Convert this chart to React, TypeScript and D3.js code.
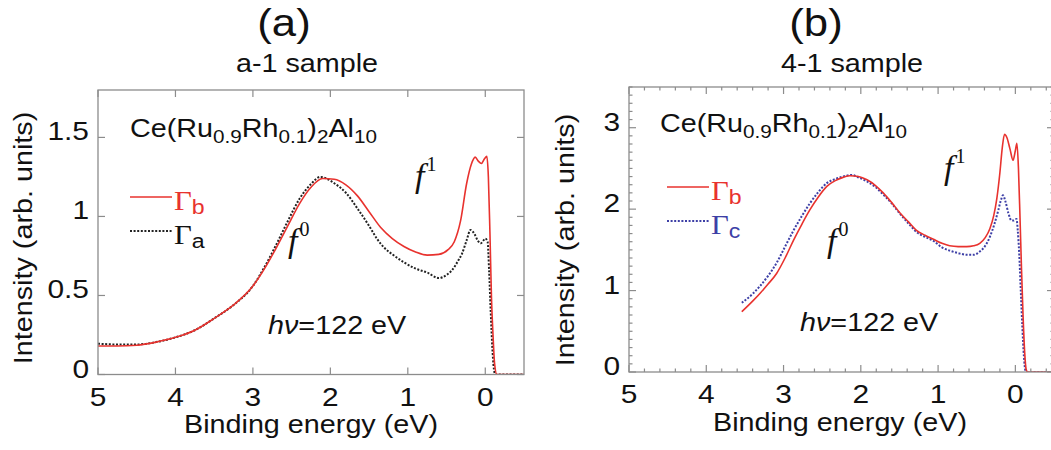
import React from 'react';
import * as d3 from 'd3';

// ---------- data ----------
const energyTicks = [5, 4, 3, 2, 1, 0];
const energyTickLabels = ['5', '4', '3', '2', '1', '0'];
const intensityTicksA = [0, 0.5, 1, 1.5];
const intensityTickLabelsA = ['0', '0.5', '1', '1.5'];
const intensityTicksB = [0, 1, 2, 3];
const intensityTickLabelsB = ['0', '1', '2', '3'];

// (a) a-1 sample, Γb (solid red)
const energyA_b = [5.0, 4.75, 4.5, 4.25, 4.0, 3.75, 3.5, 3.25, 3.0, 2.85, 2.7, 2.55, 2.4, 2.25, 2.1, 1.95, 1.8, 1.65, 1.5, 1.35, 1.2, 1.05, 0.9, 0.75, 0.6, 0.48, 0.4, 0.32, 0.24, 0.18, 0.13, 0.09, 0.05, 0.01, -0.02, -0.04, -0.06, -0.08, -0.1, -0.12, -0.15, -0.5];
const intensityA_b = [0.18, 0.18, 0.185, 0.205, 0.235, 0.28, 0.355, 0.44, 0.56, 0.67, 0.8, 0.94, 1.08, 1.185, 1.24, 1.235, 1.2, 1.13, 1.03, 0.93, 0.86, 0.81, 0.775, 0.755, 0.76, 0.79, 0.84, 0.97, 1.21, 1.33, 1.375, 1.35, 1.335, 1.365, 1.38, 1.25, 0.9, 0.49, 0.25, 0.07, 0.0, 0.0];

// (a) a-1 sample, Γa (dotted black)
const energyA_a = [5.0, 4.75, 4.5, 4.25, 4.0, 3.75, 3.5, 3.25, 3.0, 2.85, 2.7, 2.55, 2.4, 2.25, 2.13, 2.05, 1.95, 1.8, 1.65, 1.5, 1.4, 1.3, 1.2, 1.05, 0.9, 0.75, 0.6, 0.5, 0.43, 0.35, 0.3, 0.24, 0.19, 0.14, 0.1, 0.06, 0.02, 0.0, -0.03, -0.05, -0.07, -0.09, -0.11, -0.13, -0.5];
const intensityA_a = [0.195, 0.19, 0.19, 0.205, 0.235, 0.28, 0.355, 0.44, 0.56, 0.68, 0.82, 0.97, 1.11, 1.205, 1.25, 1.24, 1.21, 1.15, 1.05, 0.94, 0.86, 0.8, 0.76, 0.71, 0.67, 0.645, 0.61, 0.63, 0.66, 0.72, 0.765, 0.85, 0.915, 0.89, 0.85, 0.83, 0.85, 0.86, 0.84, 0.65, 0.4, 0.18, 0.04, 0.0, 0.0];

// (b) 4-1 sample, Γb (solid red)
const energyB_b = [3.54, 3.4, 3.3, 3.2, 3.09, 2.98, 2.87, 2.76, 2.66, 2.55, 2.44, 2.33, 2.23, 2.14, 2.03, 1.92, 1.81, 1.71, 1.6, 1.49, 1.38, 1.28, 1.17, 1.06, 0.95, 0.85, 0.74, 0.63, 0.54, 0.46, 0.39, 0.33, 0.28, 0.24, 0.2, 0.17, 0.14, 0.11, 0.07, 0.03, 0.0, -0.02, -0.04, -0.06, -0.08, -0.1, -0.12, -0.14, -0.16, -0.5];
const intensityB_b = [0.74, 0.87, 0.97, 1.08, 1.21, 1.4, 1.62, 1.82, 1.99, 2.15, 2.28, 2.35, 2.39, 2.41, 2.4, 2.36, 2.29, 2.2, 2.08, 1.95, 1.84, 1.74, 1.68, 1.63, 1.58, 1.55, 1.54, 1.54, 1.55, 1.58, 1.65, 1.76, 1.92, 2.13, 2.45, 2.75, 2.92, 2.88, 2.74, 2.6, 2.72, 2.81, 2.5, 1.9, 1.25, 0.68, 0.25, 0.03, 0.0, 0.0];

// (b) 4-1 sample, Γc (dotted blue)
const energyB_c = [3.54, 3.4, 3.31, 3.2, 3.09, 2.98, 2.87, 2.76, 2.66, 2.55, 2.44, 2.33, 2.23, 2.12, 2.03, 1.92, 1.81, 1.71, 1.6, 1.49, 1.38, 1.28, 1.17, 1.06, 0.95, 0.85, 0.74, 0.63, 0.54, 0.46, 0.39, 0.33, 0.27, 0.22, 0.19, 0.16, 0.13, 0.09, 0.05, 0.02, -0.015, -0.03, -0.05, -0.07, -0.09, -0.11, -0.13, -0.15, -0.5];
const intensityB_c = [0.85, 0.96, 1.05, 1.18, 1.34, 1.54, 1.74, 1.92, 2.07, 2.21, 2.32, 2.37, 2.4, 2.42, 2.39, 2.34, 2.27, 2.18, 2.07, 1.94, 1.82, 1.72, 1.66, 1.61, 1.53, 1.49, 1.46, 1.44, 1.44, 1.48, 1.55, 1.66, 1.82, 1.99, 2.1, 2.17, 2.1, 1.95, 1.86, 1.86, 1.88, 1.75, 1.45, 1.0, 0.56, 0.2, 0.02, 0.0, 0.0];

// ---------- styling ----------
const SANS = '"Liberation Sans", Arial, Helvetica, sans-serif';
const SERIF = '"Liberation Serif", "Times New Roman", serif';
const SX = 1.15; // the lettering is set wider than regular Helvetica
const FRAME = '#8c8c8c';
const RED = '#e8322e';
const BLUE = '#3d3fa6';
const DARK = '#222';

type Pt = [number, number];
const zip = (e: number[], v: number[]): Pt[] => e.map((d, i) => [d, v[i]]);

function WideText({ x, y, size = 26, anchor = 'start', rotate = 0, fill = '#111', family = SANS, italic = false, children }: any) {
  const t = `translate(${x},${y})${rotate ? ` rotate(${rotate})` : ''} scale(${SX},1)`;
  return (
    <text transform={t} fontSize={size} textAnchor={anchor} fill={fill} fontFamily={family} fontStyle={italic ? 'italic' : 'normal'}>
      {children}
    </text>
  );
}

interface Series { data: Pt[]; color: string; dashed: boolean }

interface PanelProps {
  x0: number; x1: number; y0: number; y1: number; yMax: number;
  yTicks: number[]; yTickLabels: string[];
  minor: boolean;
  series: Series[];
}

function Panel({ x0, x1, y0, y1, yMax, yTicks, yTickLabels, minor, series }: PanelProps) {
  const x = d3.scaleLinear().domain([5, -0.5]).range([x0, x1]);
  const y = d3.scaleLinear().domain([0, yMax]).range([y0, y1]);
  const line = d3.line<Pt>().x(d => x(d[0])).y(d => y(d[1])).curve(d3.curveMonotoneX);
  const major = 7;
  const small = 3.5;
  const xMinor = minor ? d3.range(-0.4, 5.001, 0.2).filter(v => Math.abs(v - Math.round(v)) > 1e-6) : [];
  const yMinor = minor ? d3.range(0, yMax + 1e-6, 0.1).filter(v => Math.abs(v - Math.round(v)) > 1e-6) : [];
  const xl = x(5), xr = x(-0.5), yb = y(0), yt = y(yMax);
  return (
    <g>
      <defs>
        <clipPath id={`clip-${x0}`}>
          <rect x={xl} y={yt} width={xr - xl} height={yb - yt} />
        </clipPath>
      </defs>
      <g clipPath={`url(#clip-${x0})`}>
        {series.map((s, i) => (
          <path key={i} d={line(s.data) || ''} fill="none" stroke={s.color}
            strokeWidth={s.dashed ? 2 : 1.6} strokeDasharray={s.dashed ? '2 1.6' : undefined} />
        ))}
      </g>
      <rect x={xl} y={yt} width={xr - xl} height={yb - yt} fill="none" stroke={FRAME} strokeWidth={1.3} />
      <g stroke={FRAME} strokeWidth={1.2}>
        {energyTicks.map(t => (
          <g key={`xt${t}`}>
            <line x1={x(t)} x2={x(t)} y1={yb} y2={yb - major} />
            <line x1={x(t)} x2={x(t)} y1={yt} y2={yt + major} />
          </g>
        ))}
        {xMinor.map(t => (
          <g key={`xm${t.toFixed(1)}`}>
            <line x1={x(t)} x2={x(t)} y1={yb} y2={yb - small} />
            <line x1={x(t)} x2={x(t)} y1={yt} y2={yt + small} />
          </g>
        ))}
        {yTicks.map(t => (
          <g key={`yt${t}`}>
            <line x1={xl} x2={xl + major} y1={y(t)} y2={y(t)} />
            <line x1={xr} x2={xr - major} y1={y(t)} y2={y(t)} />
          </g>
        ))}
        {yMinor.map(t => (
          <g key={`ym${t.toFixed(1)}`}>
            <line x1={xl} x2={xl + small} y1={y(t)} y2={y(t)} />
            <line x1={xr} x2={xr - small} y1={y(t)} y2={y(t)} />
          </g>
        ))}
      </g>
      {energyTicks.map((t, i) => (
        <WideText key={`xl${t}`} x={x(t)} y={yb + 31} anchor="middle" size={26}>{energyTickLabels[i]}</WideText>
      ))}
      {yTicks.map((t, i) => (
        <WideText key={`yl${t}`} x={xl - 9} y={y(t) + 3} anchor="end" size={26}>{yTickLabels[i]}</WideText>
      ))}
    </g>
  );
}

function Compound({ x, y }: { x: number; y: number }) {
  const sub = 18;
  return (
    <text transform={`translate(${x},${y}) scale(${SX},1)`} fontSize={25} fontFamily={SANS} fill="#111">
      Ce(Ru<tspan fontSize={sub} dy={6}>0.9</tspan>
      <tspan dy={-6}>Rh</tspan><tspan fontSize={sub} dy={6}>0.1</tspan>
      <tspan dy={-6}>)</tspan><tspan fontSize={sub} dy={6}>2</tspan>
      <tspan dy={-6}>Al</tspan><tspan fontSize={sub} dy={6}>10</tspan>
    </text>
  );
}

function LegendItem({ x, y, color, dashed, sub, textColor }: any) {
  return (
    <g>
      <line x1={x} x2={x + 42} y1={y} y2={y} stroke={color} strokeWidth={dashed ? 2 : 1.6}
        strokeDasharray={dashed ? '2 1.6' : undefined} />
      <text transform={`translate(${x + 44},${y + 13}) scale(1.1,1)`} fontFamily={SERIF} fontSize={28} fill={textColor}>
        Γ<tspan fontFamily={SANS} fontSize={21} dy={4}>{sub}</tspan>
      </text>
    </g>
  );
}

function FLabel({ x, y, sup }: { x: number; y: number; sup: string }) {
  return (
    <text x={x} y={y} fontFamily={SERIF} fontSize={34} fill="#111">
      <tspan fontStyle="italic">f</tspan>
      <tspan fontSize={20} dy={-16} dx={2}>{sup}</tspan>
    </text>
  );
}

function PhotonLabel({ x, y }: { x: number; y: number }) {
  return (
    <text transform={`translate(${x},${y}) scale(${SX},1)`} fontFamily={SANS} fontSize={25} fill="#111">
      <tspan fontStyle="italic">hν</tspan>=122 eV
    </text>
  );
}

export default function App() {
  const panelA: PanelProps = {
    x0: 98, x1: 524, y0: 374.5, y1: 90, yMax: 1.8,
    yTicks: intensityTicksA, yTickLabels: intensityTickLabelsA, minor: false,
    series: [
      { data: zip(energyA_a, intensityA_a), color: DARK, dashed: true },
      { data: zip(energyA_b, intensityA_b), color: RED, dashed: false },
    ],
  };
  const panelB: PanelProps = {
    x0: 629, x1: 1054, y0: 372, y1: 87, yMax: 3.5,
    yTicks: intensityTicksB, yTickLabels: intensityTickLabelsB, minor: true,
    series: [
      { data: zip(energyB_c, intensityB_c), color: BLUE, dashed: true },
      { data: zip(energyB_b, intensityB_b), color: RED, dashed: false },
    ],
  };
  return (
    <svg width={1051} height={450} viewBox="0 0 1051 450"
      style={{ position: 'absolute', left: 0, top: 0, display: 'block', background: '#fff' }}>
      <rect width={1051} height={450} fill="#fff" />

      {/* panel (a) */}
      <WideText x={284} y={36} anchor="middle" size={38}>(a)</WideText>
      <WideText x={307} y={72} anchor="middle" size={25}>a-1 sample</WideText>
      <Panel {...panelA} />
      <WideText x={32} y={238} anchor="middle" size={25} rotate={-90}>Intensity (arb. units)</WideText>
      <WideText x={311} y={433} anchor="middle" size={25}>Binding energy (eV)</WideText>
      <Compound x={130} y={137} />
      <LegendItem x={130} y={197} color={RED} dashed={false} sub="b" textColor={RED} />
      <LegendItem x={130} y={231} color={DARK} dashed={true} sub="a" textColor="#111" />
      <FLabel x={288} y={252} sup="0" />
      <FLabel x={415} y={187} sup="1" />
      <PhotonLabel x={268} y={334} />

      {/* panel (b) */}
      <WideText x={816} y={36} anchor="middle" size={38}>(b)</WideText>
      <WideText x={852} y={72} anchor="middle" size={25}>4-1 sample</WideText>
      <Panel {...panelB} />
      <WideText x={574} y={240} anchor="middle" size={25} rotate={-90}>Intensity (arb. units)</WideText>
      <WideText x={840} y={431} anchor="middle" size={25}>Binding energy (eV)</WideText>
      <Compound x={660} y={132} />
      <LegendItem x={667} y={187} color={RED} dashed={false} sub="b" textColor={RED} />
      <LegendItem x={667} y={221} color={BLUE} dashed={true} sub="c" textColor={BLUE} />
      <FLabel x={827} y={252} sup="0" />
      <FLabel x={944} y={179} sup="1" />
      <PhotonLabel x={800} y={331} />
    </svg>
  );
}
